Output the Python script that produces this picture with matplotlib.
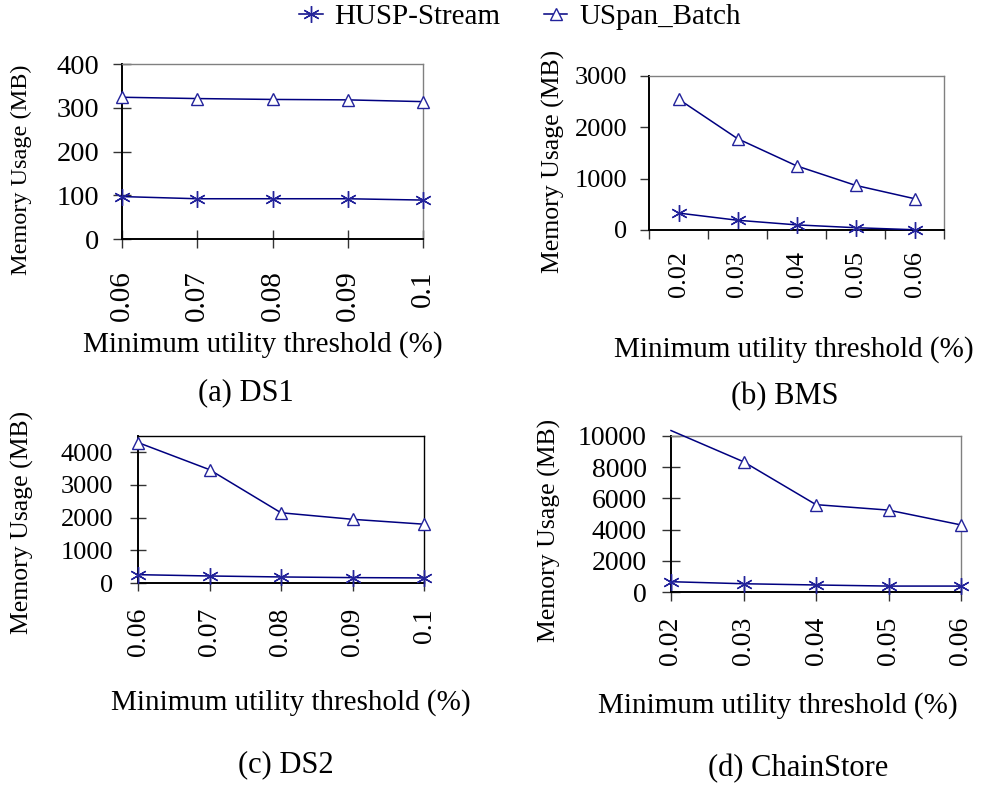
import matplotlib
matplotlib.use("Agg")
import matplotlib.pyplot as plt

plt.rcParams['font.family'] = ['Liberation Serif', 'DejaVu Serif']

# ---------------- data ----------------
thr_ds = ['0.06', '0.07', '0.08', '0.09', '0.1']
thr_bms = ['0.02', '0.03', '0.04', '0.05', '0.06']

ds1_husp = [97, 92, 92, 92, 89]
ds1_uspan = [324, 321, 319, 318, 314]

bms_husp = [330, 190, 100, 45, 5]
bms_uspan = [2550, 1780, 1250, 870, 610]

ds2_husp = [255, 215, 185, 165, 155]
ds2_uspan = [4300, 3470, 2150, 1950, 1800]

cs_husp = [660, 530, 450, 380, 380]
cs_uspan = [10350, 8350, 5600, 5250, 4300]

W, H = 983, 786
LINE = '#000080'
MARK = '#23239b'
GRAY = '#808080'


def fx(x):
    return x / W


def fy(y):
    return 1 - y / H


def rect(l, t, r, b):
    return [fx(l), fy(b), (r - l) / W, (b - t) / H]


fig = plt.figure(figsize=(W / 100, H / 100), dpi=100)

# panel settings: axes box in pixels, y range, tick style, font sizes
panels = [
    dict(box=(122, 64, 423, 239), labels=thr_ds, husp=ds1_husp, uspan=ds1_uspan,
         ylim=400, ystep=100, cat=False, tdir='inout', tlen=13, pad=10, xpad=16,
         yfs=20.5, xfs=21, frame=GRAY,
         ylab=(21, 170, 17.5), xlab=(263, 345), cap=(246, 393, '(a) DS1')),
    dict(box=(649, 76, 944, 230), labels=thr_bms, husp=bms_husp, uspan=bms_uspan,
         ylim=3000, ystep=1000, cat=True, tdir='out', tlen=6.5, pad=9, xpad=15,
         yfs=19, xfs=19, frame=GRAY,
         ylab=(553, 161, 18.5), xlab=(794, 350), cap=(785, 397, '(b) BMS')),
    dict(box=(138, 436, 424, 583), labels=thr_ds, husp=ds2_husp, uspan=ds2_uspan,
         ylim=4500, ystep=1000, cat=False, tdir='inout', tlen=12, pad=12, xpad=12,
         yfs=19, xfs=20, frame='black',
         ylab=(22, 522, 18.5), xlab=(291, 703), cap=(286, 765, '(c) DS2')),
    dict(box=(671, 436, 961, 592), labels=thr_bms, husp=cs_husp, uspan=cs_uspan,
         ylim=10000, ystep=2000, cat=False, tdir='inout', tlen=13, pad=11, xpad=11,
         yfs=20, xfs=20, frame=GRAY,
         ylab=(549, 530, 18.5), xlab=(778, 706), cap=(798, 769, '(d) ChainStore')),
]

handles = None
for p in panels:
    ax = fig.add_axes(rect(*p['box']))
    x = list(range(len(p['labels'])))
    ymax = p['ylim']

    h1, = ax.plot(x, p['husp'], color=LINE, lw=1.1, marker=(6, 2, 0), ms=12,
                  mec=MARK, mew=1.0, clip_on=False, zorder=3)
    # values above the axis top keep their line segment but lose the marker
    shown = [i for i, v in enumerate(p['uspan']) if v <= ymax]
    h2, = ax.plot(x, p['uspan'], color=LINE, lw=1.1, marker='^', ms=8,
                  mfc='white', mec=MARK, mew=1.0, markevery=shown,
                  clip_on=False, zorder=3)
    if handles is None:
        handles = [h1, h2]

    ax.set_ylim(0, ymax)
    top_tick = ymax if ymax % p['ystep'] == 0 else ymax - ymax % p['ystep']
    ax.set_yticks(range(0, top_tick + 1, p['ystep']))

    if p['cat']:
        ax.set_xlim(-0.5, len(x) - 0.5)
        ax.set_xticks([i - 0.5 for i in range(len(x) + 1)])
        ax.set_xticklabels([])
        ax.set_xticks(x, minor=True)
        ax.set_xticklabels(p['labels'], minor=True, rotation=90,
                           fontsize=p['xfs'], va='top')
        ax.tick_params(axis='x', which='minor', length=0, pad=p['xpad'])
    else:
        ax.set_xlim(0, len(x) - 1)
        ax.set_xticks(x)
        ax.set_xticklabels(p['labels'], rotation=90, fontsize=p['xfs'], va='top')

    ax.tick_params(axis='both', which='major', direction=p['tdir'],
                   length=p['tlen'], width=1.0, color='#333333', pad=p['pad'])
    if not p['cat']:
        ax.tick_params(axis='x', pad=p['xpad'])
    ax.tick_params(axis='y', labelsize=p['yfs'])

    for side in ('left', 'bottom'):
        ax.spines[side].set_color('black')
        ax.spines[side].set_linewidth(1.4)
    for side in ('top', 'right'):
        ax.spines[side].set_color(p['frame'])
        ax.spines[side].set_linewidth(1.0)

    yx, yy, yfs = p['ylab']
    fig.text(fx(yx), fy(yy), 'Memory Usage (MB)', rotation=90,
             ha='center', va='center', fontsize=yfs)
    fig.text(fx(p['xlab'][0]), fy(p['xlab'][1]), 'Minimum utility threshold (%)',
             ha='center', va='center', fontsize=21)
    cx, cy, ctext = p['cap']
    fig.text(fx(cx), fy(cy), ctext, ha='center', va='center', fontsize=22)

fig.legend(handles, ['HUSP-Stream', 'USpan_Batch'], loc='center',
           bbox_to_anchor=(fx(520), fy(17)), ncol=2, frameon=False,
           fontsize=21, handlelength=0.8, handletextpad=0.4,
           columnspacing=1.5, borderpad=0)

fig.savefig('out.png', dpi=100)
